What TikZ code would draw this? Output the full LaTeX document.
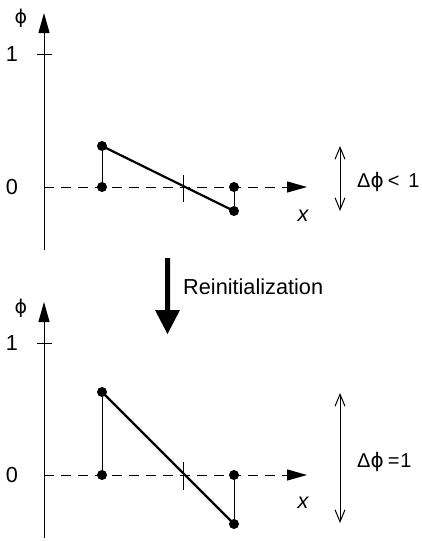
\documentclass[tikz,border=0pt]{standalone}
\usepackage{fontspec}
\setmainfont{Liberation Sans}
\newfontfamily\symfont{DejaVu Sans}
\newcommand{\myphi}{{\symfont ϕ}}
\usetikzlibrary{arrows.meta}
\begin{document}
\begin{tikzpicture}[x=1pt,y=-1pt,
  every node/.style={inner sep=0pt, font=\fontsize{21.7}{26}\selectfont},
  axisline/.style={line width=1pt},
  yaxarrow/.style={line width=1pt,-{Triangle[length=20pt,width=11pt]}},
  xaxarrow/.style={line width=1pt,dash pattern=on 10pt off 7pt,-{Triangle[length=20pt,width=11pt]}},
  dot/.style={circle,fill=black,minimum size=10pt,inner sep=0pt},
  thin link/.style={line width=1pt},
  thick link/.style={line width=2.2pt},
  deltaarrow/.style={line width=1pt,{Straight Barb[length=12pt,width=10pt]}-{Straight Barb[length=12pt,width=10pt]}},
  dlabel/.style={anchor=west,font=\fontsize{20}{24}\selectfont}]
\useasboundingbox (0,0) rectangle (421,541);
% ---------- top panel ----------
\coordinate (ya) at (44,250);
\coordinate (yb) at (44,13);
\draw[yaxarrow] (ya) -- (yb);
\node[font=\fontsize{19}{22}\selectfont] (phiA) at (21,18) {\myphi};
\coordinate (t1a) at (37,54);
\coordinate (t1b) at (52,54);
\draw[axisline] (t1a) -- (t1b);
\node (oneA) at (12,54) {1};
\node (zeroA) at (12,187) {0};
\coordinate (xa) at (44,187);
\coordinate (xb) at (307,187);
\draw[xaxarrow] (xa) -- (xb);
\node (xA) at (303,216) {\itshape x};
\coordinate (ma) at (183,175);
\coordinate (mb) at (183,202);
\draw[axisline] (ma) -- (mb);
\node[dot] (a0) at (102,187) {};
\node[dot] (a1) at (102,146) {};
\node[dot] (b0) at (234,187) {};
\node[dot] (b1) at (234,211) {};
\draw[thin link] (a0) -- (a1);
\draw[thin link] (b0) -- (b1);
\draw[thick link] (a1.center) -- (b1.center);
\coordinate (da) at (340,146);
\coordinate (db) at (340,211);
\draw[deltaarrow] (da) -- (db);
\node[dlabel] (dA) at (357,182) {Δ\myphi\hspace{4pt}<\hspace{9pt}1};
% ---------- arrow ----------
\fill (165,258) -- (170,258) -- (170,310) -- (180,310) -- (167.5,334) -- (155,310) -- (165,310) -- cycle;
\node[anchor=west] (reinit) at (183,287) {Reinitialization};
% ---------- bottom panel ----------
\coordinate (yc) at (44,538);
\coordinate (yd) at (44,302);
\draw[yaxarrow] (yc) -- (yd);
\node[font=\fontsize{19}{22}\selectfont] (phiB) at (21,308) {\myphi};
\coordinate (t2a) at (37,343);
\coordinate (t2b) at (52,343);
\draw[axisline] (t2a) -- (t2b);
\node (oneB) at (12,343) {1};
\node (zeroB) at (12,475) {0};
\coordinate (xc) at (44,475);
\coordinate (xd) at (307,475);
\draw[xaxarrow] (xc) -- (xd);
\node (xB) at (303,503) {\itshape x};
\coordinate (mc) at (183,462);
\coordinate (md) at (183,490);
\draw[axisline] (mc) -- (md);
\node[dot] (c0) at (102,475) {};
\node[dot] (c1) at (102,392) {};
\node[dot] (e0) at (234,475) {};
\node[dot] (e1) at (234,524) {};
\draw[thin link] (c0) -- (c1);
\draw[thin link] (e0) -- (e1);
\draw[thick link] (c1.center) -- (e1.center);
\coordinate (dc) at (340,393);
\coordinate (dd) at (340,523);
\draw[deltaarrow] (dc) -- (dd);
\node[dlabel] (dB) at (357,462) {Δ\myphi\hspace{4pt}=\hspace{1pt}1};
\end{tikzpicture}
\end{document}
